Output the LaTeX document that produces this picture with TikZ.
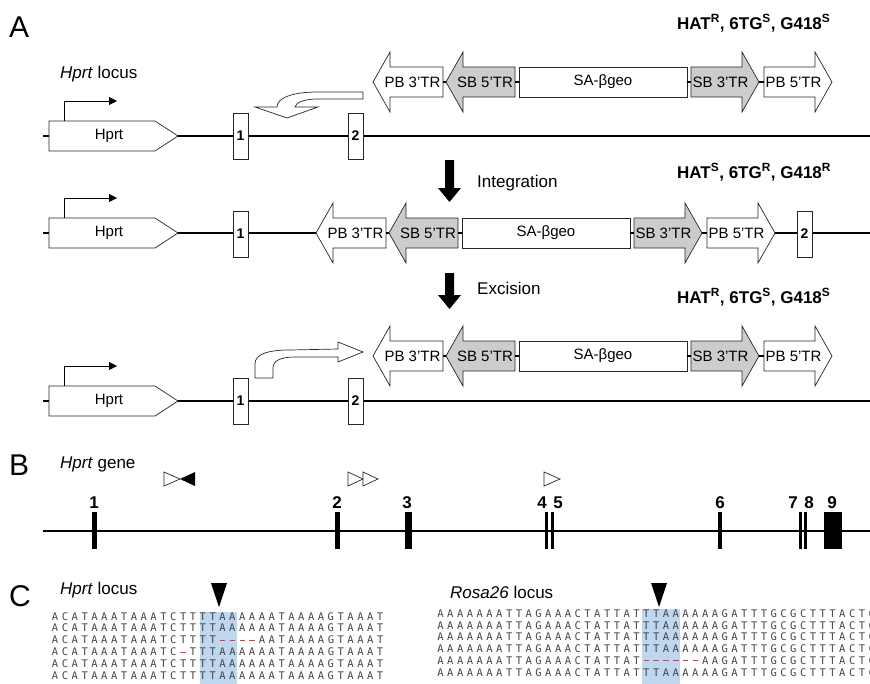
\documentclass[tikz,border=0pt]{standalone}
\usepackage{fontspec}
\setmainfont{Liberation Sans}
\newfontfamily\seqfont{DejaVu Sans Mono}
\usepackage{xcolor}
\usepackage{tikz}
\usetikzlibrary{arrows.meta,positioning,calc}
\definecolor{trgray}{RGB}{204,204,204}
\definecolor{hlblue}{RGB}{190,214,238}
\definecolor{gapred}{RGB}{228,60,60}
\definecolor{seqgray}{RGB}{70,70,70}
\newlength{\seqw}
\newcommand{\gp}{\textcolor{gapred}{\rule[3pt]{5.5pt}{1pt}}}
\newcommand{\sq}[1]{\makebox[\seqw][c]{#1}}
\def\seqrow#1{\ifx#1\relax\else\sq{#1}\expandafter\seqrow\fi}
\newcommand{\hseq}[1]{\setlength{\seqw}{9.85pt}\seqrow#1\relax}
\newcommand{\rseq}[1]{\setlength{\seqw}{9.8pt}\seqrow#1\relax}
\newcommand{\TRleft}[5]{%
  \draw[trbox,fill=#4] (#2,-15) -- (#3,-15) -- (#3,15) -- (#2,15) -- (#2,30) -- (#2-17,0) -- (#2,-30) -- cycle;
  \coordinate (#1-tip) at (#2-17,0);
  \coordinate (#1-end) at (#3,0);
  \node[trtext] (#1) at ({(#2+#3)/2-4},0) {#5};}
\newcommand{\TRright}[5]{%
  \draw[trbox,fill=#4] (#3,-15) -- (#2,-15) -- (#2,15) -- (#3,15) -- (#3,30) -- (#3+17,0) -- (#3,-30) -- cycle;
  \coordinate (#1-tip) at (#3+17,0);
  \coordinate (#1-end) at (#2,0);
  \node[trtext] (#1) at ({(#2+#3)/2+4},0) {#5};}
\newcommand{\transposon}[3]{%
  \begin{scope}[shift={(#2,#3)}]
    \TRleft{#1pb3}{390}{443}{white}{PB 3’TR}
    \TRleft{#1sb5}{463}{515}{trgray}{SB 5’TR}
    \node[trbox,fill=white,minimum width=168pt,minimum height=30pt,font=\fontsize{15}{17}\selectfont] (#1sa) at (603,0) {SA-βgeo};
    \TRright{#1sb3}{691}{742}{trgray}{SB 3’TR}
    \TRright{#1pb5}{764}{815}{white}{PB 5’TR}
    \draw[link] (#1pb3-end) -- (#1sb5-tip);
    \draw[link] (#1sb5-end) -- (#1sa);
    \draw[link] (#1sa) -- (#1sb3-end);
    \draw[link] (#1sb3-tip) -- (#1pb5-end);
  \end{scope}}
\newcommand{\hprtgene}[2]{%
  \draw[trbox,fill=white] (49,#2-15) -- (155,#2-15) -- (178,#2) -- (155,#2+15) -- (49,#2+15) -- cycle;
  \node[trtext] (#1) at (109,#2) {Hprt};
  \coordinate (#1-prom) at (64,#2-15);
  \coordinate (#1-tss) at (117,#2-35);
  \draw[prom] (#1-prom) |- (#1-tss);}

\begin{document}
\begin{tikzpicture}[x=1pt,y=-1pt,
  every node/.style={font=\fontsize{17}{20}\selectfont,inner sep=0pt},
  panel/.style={font=\fontsize{30}{34}\selectfont,anchor=base west},
  lbl/.style={anchor=base west},
  res/.style={font=\bfseries\fontsize{17}{20}\selectfont,anchor=base west},
  trbox/.style={draw=black!85,line width=0.7pt},
  trtext/.style={font=\fontsize{15}{17}\selectfont},
  locus/.style={line width=2.4pt},
  link/.style={line width=1.3pt},
  prom/.style={line width=0.9pt,-{Triangle[length=8pt,width=8pt]}},
  exon/.style={trbox,fill=white,minimum width=15pt,minimum height=46pt,font=\bfseries\fontsize{14}{16}\selectfont},
  uturn/.style={trbox,fill=white},
  bexon/.style={fill=black,minimum height=37pt},
  num/.style={font=\bfseries\fontsize{17}{20}\selectfont,anchor=base},
  site/.style={draw=black!85,line width=0.7pt},
  hl/.style={fill=hlblue},
  seqrowstyle/.style={font=\seqfont\fontsize{10.5}{12}\selectfont,text=seqgray,anchor=base west}
]
\useasboundingbox (0,0) rectangle (870,683);

% panel A
\node[panel] (labA) at (9,37) {A};
\node[lbl] (locA) at (60,78) {\textit{Hprt} locus};
\node[res] (res1) at (677,29) {HAT\textsuperscript{R}, 6TG\textsuperscript{S}, G418\textsuperscript{S}};
\node[res] (res2) at (677,178) {HAT\textsuperscript{S}, 6TG\textsuperscript{R}, G418\textsuperscript{R}};
\node[res] (res3) at (677,303) {HAT\textsuperscript{R}, 6TG\textsuperscript{S}, G418\textsuperscript{S}};

% row 1: donor transposon and intact locus
\draw[locus] (43,136) -- (870,136);
\hprtgene{hpA}{136}
\node[exon] (exA1) at (240.5,136) {1};
\node[exon] (exA2) at (355.5,136) {2};
\draw[uturn] (363,92) -- (318,92) .. controls (292,92) and (277,98) .. (277,107) -- (255,107) -- (287,118) -- (318,107) -- (295,107) .. controls (296,102) and (305,99) .. (318,99) -- (363,99) -- cycle;
\transposon{a}{0}{82}

% integration
\fill (445,160) -- (454,160) -- (454,188) -- (461,188) -- (449.5,202) -- (438,188) -- (445,188) -- cycle;
\node[lbl] (integ) at (477,187) {Integration};

% row 2: integrated locus
\transposon{b}{-57}{233}
\draw[locus] (43,233) -- (bpb3-tip);
\draw[locus] (bpb5-tip) -- (870,233);
\hprtgene{hpB}{233}
\node[exon] (exB1) at (240.5,234) {1};
\node[exon] (exB2) at (804.5,234) {2};

% excision
\fill (445,273) -- (454,273) -- (454,295) -- (461,295) -- (449.5,309) -- (438,295) -- (445,295) -- cycle;
\node[lbl] (excis) at (477,294) {Excision};

% row 3: excised locus
\draw[locus] (43,401) -- (870,401);
\hprtgene{hpC}{401}
\node[exon] (exC1) at (240.5,401) {1};
\node[exon] (exC2) at (355.5,401) {2};
\draw[uturn] (255,378) -- (255,364) .. controls (255,354) and (268,350) .. (290,350) -- (338,349) -- (338,342) -- (363,352) -- (338,362) -- (338,357) -- (295,357) .. controls (280,357) and (273,361) .. (273,368) -- (273,378) -- cycle;
\transposon{c}{0}{356}

% panel B
\node[panel] (labB) at (9,475) {B};
\node[lbl] (geneB) at (60,468) {\textit{Hprt} gene};
\draw[site] (164,472) -- (180,479) -- (164,486) -- cycle;
\fill (195,472) -- (180,479) -- (195,486) -- cycle;
\draw[site] (348,472) -- (363,479) -- (348,486) -- cycle;
\draw[site] (363,472) -- (378,479) -- (363,486) -- cycle;
\draw[site] (544,472) -- (560,479) -- (544,486) -- cycle;
\draw[locus] (43,531) -- (870,531);
\node[bexon,minimum width=5pt] (x1) at (94,530.5) {};
\node[bexon,minimum width=5pt] (x2) at (337.5,530.5) {};
\node[bexon,minimum width=7pt] (x3) at (408,530.5) {};
\node[bexon,minimum width=3.5pt] (x4) at (546.5,530.5) {};
\node[bexon,minimum width=3.5pt] (x5) at (552.5,530.5) {};
\node[bexon,minimum width=4.5pt] (x6) at (720,530.5) {};
\node[bexon,minimum width=3pt] (x7) at (800.5,530.5) {};
\node[bexon,minimum width=3pt] (x8) at (805.5,530.5) {};
\node[bexon,minimum width=18pt] (x9) at (833,530.5) {};
\node[num] (n1) at (94,508) {1};
\node[num] (n2) at (337,508) {2};
\node[num] (n3) at (407,508) {3};
\node[num] (n4) at (542,508) {4};
\node[num] (n5) at (558,508) {5};
\node[num] (n6) at (720,508) {6};
\node[num] (n7) at (793,508) {7};
\node[num] (n8) at (809,508) {8};
\node[num] (n9) at (832,508) {9};

% panel C
\node[panel] (labC) at (9,606) {C};
\node[lbl] (locC1) at (60,594) {\textit{Hprt} locus};
\node[lbl] (locC2) at (450,598) {\textit{Rosa26} locus};
\fill[hl] (200,612) rectangle (237,690);
\fill[hl] (642,609) rectangle (680,690);
\fill (211,583) -- (227,583) -- (219,607) -- cycle;
\fill (651,583) -- (667,583) -- (659,607) -- cycle;
\node[seqrowstyle] (h1) at (50,620) {\hseq{ACATAAATAAATCTTTTAAAAAATAAAAGTAAAT}};
\node[seqrowstyle] (h2) at (50,631.9) {\hseq{ACATAAATAAATCTTTTAAAAAATAAAAGTAAAT}};
\node[seqrowstyle] (h3) at (50,643.8) {\hseq{ACATAAATAAATCTTTT\gp\gp\gp\gp AATAAAAGTAAAT}};
\node[seqrowstyle] (h4) at (50,655.7) {\hseq{ACATAAATAAATC\gp TTTAAAAAATAAAAGTAAAT}};
\node[seqrowstyle] (h5) at (50,667.6) {\hseq{ACATAAATAAATCTTTTAAAAAATAAAAGTAAAT}};
\node[seqrowstyle] (h6) at (50,679.5) {\hseq{ACATAAATAAATCTTTTAAAAAATAAAAGTAAAT}};
\node[seqrowstyle] (r1) at (435.5,617.5) {\rseq{AAAAAAATTAGAAACTATTATTTAAAAAAGATTTGCGCTTTACTC}};
\node[seqrowstyle] (r2) at (435.5,629.2) {\rseq{AAAAAAATTAGAAACTATTATTTAAAAAAGATTTGCGCTTTACTC}};
\node[seqrowstyle] (r3) at (435.5,640.9) {\rseq{AAAAAAATTAGAAACTATTATTTAAAAAAGATTTGCGCTTTACTC}};
\node[seqrowstyle] (r4) at (435.5,652.6) {\rseq{AAAAAAATTAGAAACTATTATTTAAAAAAGATTTGCGCTTTACTC}};
\node[seqrowstyle] (r5) at (435.5,664.3) {\rseq{AAAAAAATTAGAAACTATTAT\gp\gp\gp\gp\gp\gp AAGATTTGCGCTTTACTC}};
\node[seqrowstyle] (r6) at (435.5,676) {\rseq{AAAAAAATTAGAAACTATTATTTAAAAAAGATTTGCGCTTTACTC}};
\end{tikzpicture}
\end{document}
